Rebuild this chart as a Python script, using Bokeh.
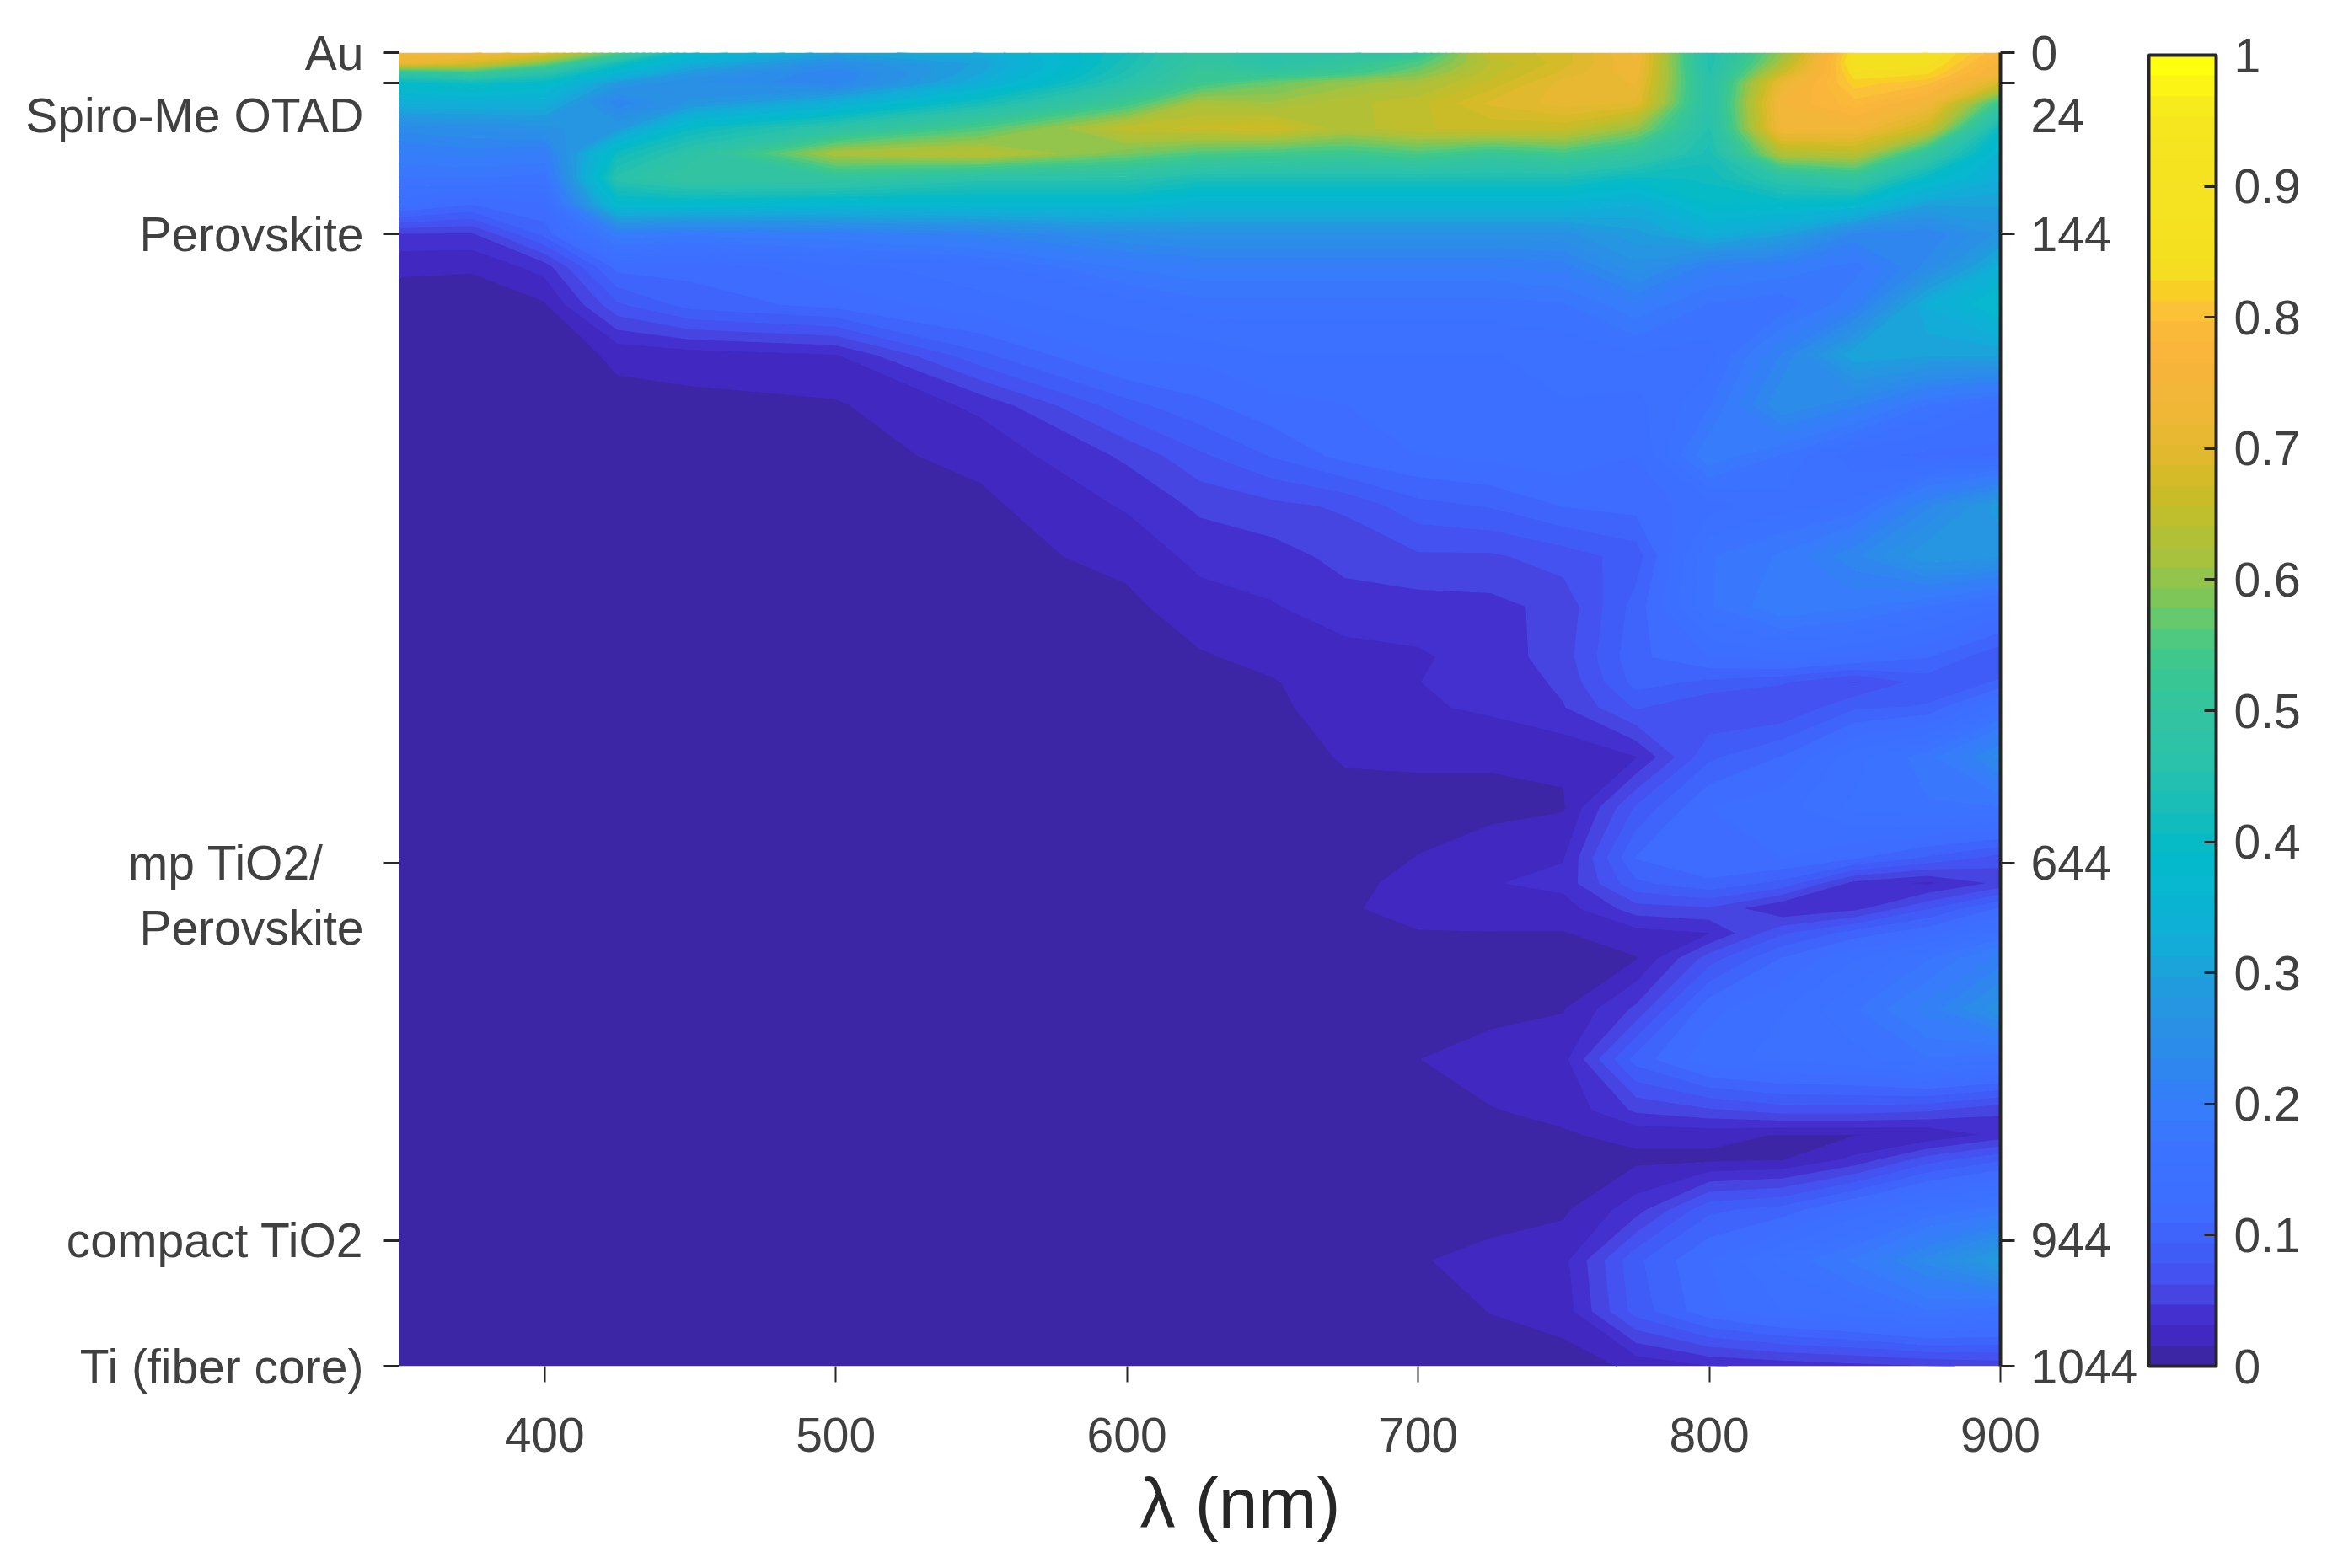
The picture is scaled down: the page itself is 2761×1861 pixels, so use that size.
import numpy as np
from bokeh.embed import file_html
from bokeh.models import ColorBar, FixedTicker, LinearAxis, LinearColorMapper, Range1d, Title
from bokeh.plotting import figure
from bokeh.resources import INLINE

# wavelength (nm) and depth (nm) of the values
wavelength = [350, 375, 400, 425, 450, 500, 550, 600, 625, 650, 675, 700, 725, 750, 775, 800, 825, 850, 875, 900]
depth = [0, 8, 16, 24, 40, 60, 80, 100, 120, 144, 170, 200, 240, 280, 320, 360, 400, 440, 480, 500,
         520, 560, 600, 640, 660, 680, 700, 720, 760, 800, 840, 860, 880, 920, 960, 1000, 1044]

col_350 = [.74, .72, .48, .39, .33, .24, .20, .17, .13, .045, .018, .009] + [.008] * 25
col_375 = [.74, .68, .52, .41, .33, .25, .21, .17, .11, .044, .017, .009] + [.008] * 25
col_400 = [.70, .58, .46, .39, .33, .26, .20, .165, .125, .098, .038, .0135] + [.008] * 25
col_425 = [.55, .42, .36, .28, .22, .28, .41, .46, .38, .20, .115, .075, .018, .012] + [.008] * 23
col_450 = [.38, .33, .28, .25, .27, .40, .47, .50, .38, .19, .115, .10, .023, .011] + [.008] * 23
col_500 = [.30, .25, .22, .22, .33, .47, .62, .50, .37, .20, .135, .115, .03, .0135, .01] + [.008] * 22
col_550 = [.33, .30, .31, .33, .42, .55, .64, .46, .37, .22, .15, .135, .09, .035, .02, .012, .01] + [.008] * 20
col_600 = [.42, .43, .44, .46, .53, .65, .58, .46, .37, .25, .19, .15, .13, .088, .05, .033, .02, .012] + [.008] * 19
col_625 = [.50, .50, .52, .53, .62, .66, .55, .43, .35, .26, .20, .165, .13, .105, .075, .05, .036, .024, .014, .01] + [.008] * 17
col_650 = [.47, .46, .50, .57, .61, .67, .54, .43, .35, .26, .20, .165, .14, .12, .095, .058, .04, .03, .02, .0145, .012] + [.008] * 16
col_675 = [.48, .50, .53, .60, .635, .63, .53, .43, .35, .26, .20, .165, .14, .125, .115, .065, .052, .04, .025, .024,
           .024, .017, .01, .008, .008, .012, .009, .008, .008, .008, .008, .008, .008, .008, .008, .008, .008]
col_700 = [.50, .55, .58, .62, .65, .655, .55, .43, .35, .26, .20, .165, .14, .135, .125, .088, .06, .04, .029, .031,
           .029, .018, .01, .016, .024, .026, .0135, .012, .009, .0153, .014, .01, .009, .009, .0145, .009, .008]
col_725 = [.66, .64, .65, .66, .69, .66, .52, .43, .35, .26, .20, .165, .14, .14, .13, .095, .06, .042, .038, .036,
           .034, .018, .01, .026, .03, .026, .0145, .013, .011, .022, .015, .011, .01, .01, .02, .016, .008]
col_750 = [.68, .68, .69, .71, .71, .66, .54, .43, .35, .26, .21, .17, .145, .14, .135, .11, .07, .052, .055, .05,
           .046, .018, .014, .03, .036, .024, .0145, .012, .0145, .026, .0195, .014, .011, .013, .026, .022, .009]
col_775 = [.74, .735, .73, .72, .70, .60, .50, .40, .33, .29, .26, .20, .155, .135, .125, .115, .085, .10, .105, .10,
           .08, .03, .08, .11, .09, .055, .024, .0145, .05, .10, .05, .02, .012, .04, .09, .085, .018]
col_800 = [.44, .44, .45, .46, .46, .45, .43, .41, .39, .33, .21, .17, .15, .17, .20, .135, .17, .17, .125, .09,
           .063, .09, .125, .125, .105, .06, .03, .07, .12, .135, .06, .02, .012, .09, .125, .12, .03]
col_825 = [.60, .62, .66, .72, .75, .74, .63, .47, .39, .30, .20, .16, .22, .25, .17, .15, .19, .20, .135, .08,
           .062, .11, .135, .125, .088, .03, .075, .11, .14, .145, .07, .0145, .0145, .10, .16, .14, .035]
col_850 = [.85, .86, .84, .82, .79, .74, .64, .50, .38, .23, .18, .20, .31, .22, .13, .16, .23, .19, .125, .06,
           .09, .15, .16, .11, .04, .04, .10, .14, .17, .15, .07, .0145, .035, .13, .19, .15, .04]
col_875 = [.86, .85, .83, .80, .74, .66, .50, .39, .30, .22, .24, .33, .30, .17, .12, .23, .28, .17, .11, .085,
           .095, .18, .17, .09, .027, .075, .12, .17, .21, .17, .065, .0155, .07, .16, .24, .17, .045]
col_900 = [.78, .76, .74, .68, .52, .40, .35, .33, .30, .27, .33, .38, .30, .14, .12, .29, .27, .14, .08, .095,
           .15, .24, .17, .07, .05, .11, .16, .21, .26, .16, .05, .036, .09, .18, .29, .16, .05]

columns = [col_350, col_375, col_400, col_425, col_450, col_500, col_550, col_600, col_625, col_650,
           col_675, col_700, col_725, col_750, col_775, col_800, col_825, col_850, col_875, col_900]

x_ticks = [400, 500, 600, 700, 800, 900]
depth_ticks = [0, 24, 144, 644, 944, 1044]
# the blank lines push a label below its tick, the no-break spaces pull "mp TiO2/" left
layer_names = {0: "Au", 24: "\nSpiro-Me OTAD", 144: "Perovskite", 644: "\nmp TiO2/\u00a0\u00a0\u00a0\nPerovskite",
               944: "compact TiO2", 1044: "Ti (fiber core)"}
depth_names = {0: "0", 24: "\n24", 144: "144", 644: "644", 944: "944", 1044: "1044"}
bar_ticks = [0, .1, .2, .3, .4, .5, .6, .7, .8, .9, 1]

# 64 steps of the colour bar, from the bottom up
palette = ["#3C26A5", "#4128C0", "#4330CF", "#4645E2", "#4352F0", "#405CF8", "#3F64FC", "#3D6CFF",
           "#3C6EFF", "#3C70FF", "#3B72FF", "#3977FD", "#367CFB", "#3380F6", "#2F86EF", "#2C8CEA",
           "#2A90E6", "#2695E2", "#209CDE", "#1AA4DA", "#13ABD8", "#0FB0D6", "#0BB3D3", "#08B7D0",
           "#05B9CC", "#06BAC6", "#10BCBE", "#1ABEB6", "#22C0B0", "#2AC2AA", "#2EC3A6", "#32C4A2",
           "#34C59C", "#38C694", "#3FC88B", "#4FC97F", "#66C96D", "#7FC659", "#93C44B", "#A8C23D",
           "#B2C035", "#BFBE2C", "#CABC28", "#D6BB28", "#E1B92E", "#E8B833", "#EEB736", "#F2B639",
           "#F6B53A", "#F9B63A", "#FBB93A", "#FBC237", "#F8D025", "#F5DE22", "#F5E020", "#F5E120",
           "#F5E220", "#F5E220", "#F5E320", "#F5E420", "#F6E61F", "#F7EB1C", "#FBF415", "#FFFF0E"]

font = "Liberation Sans"
size = "57px"
grey = "#404040"
dark = "#262626"

p = figure(frame_width=1900, frame_height=1559, min_border_left=473, min_border_top=62,
           min_border_right=372, min_border_bottom=224,
           x_range=Range1d(350, 900), y_range=Range1d(1044, 0),
           output_backend="svg", toolbar_location=None)
p.outline_line_color = None
p.grid.visible = False

z = np.array(columns).T
levels = np.linspace(0, 1, 65)
p.contour(wavelength, depth, z, levels, fill_color=palette, line_color=palette + ["#FFFF0E"], line_width=1.5)

p.xaxis.ticker = x_ticks
p.xaxis.axis_line_color = None
p.xaxis.minor_tick_line_color = None
p.xaxis.major_tick_in = 0
p.xaxis.major_tick_out = 19
p.xaxis.major_tick_line_color = dark
p.xaxis.major_tick_line_width = 2
p.xaxis.major_label_standoff = 42
p.xaxis.major_label_text_font = font
p.xaxis.major_label_text_font_size = size
p.xaxis.major_label_text_color = grey

p.yaxis.ticker = depth_ticks
p.yaxis.major_label_overrides = layer_names
p.yaxis.axis_line_color = None
p.yaxis.minor_tick_line_color = None
p.yaxis.major_tick_in = 0
p.yaxis.major_tick_out = 18
p.yaxis.major_tick_line_color = dark
p.yaxis.major_tick_line_width = 3
p.yaxis.major_label_standoff = 24
p.yaxis.major_label_text_font = font
p.yaxis.major_label_text_font_size = size
p.yaxis.major_label_text_color = grey

right_axis = LinearAxis(ticker=FixedTicker(ticks=depth_ticks), major_label_overrides=depth_names)
right_axis.axis_line_color = dark
right_axis.axis_line_width = 4
right_axis.minor_tick_line_color = None
right_axis.major_tick_in = 0
right_axis.major_tick_out = 17
right_axis.major_tick_line_color = dark
right_axis.major_tick_line_width = 3
right_axis.major_label_standoff = 19
right_axis.major_label_text_font = font
right_axis.major_label_text_font_size = size
right_axis.major_label_text_color = grey
p.add_layout(right_axis, "right")

mapper = LinearColorMapper(palette=palette, low=0, high=1)
bar = ColorBar(color_mapper=mapper, ticker=FixedTicker(ticks=bar_ticks), major_label_overrides={0: "0", 1: "1"},
               width=80, height=1556, padding=0, margin=21, location=(10, 0), label_standoff=21,
               major_tick_in=14, major_tick_out=0, major_tick_line_color=dark, major_tick_line_width=3,
               minor_tick_line_color=None, bar_line_color=dark, bar_line_width=4,
               major_label_text_font=font, major_label_text_font_size=size, major_label_text_color=grey)
p.add_layout(bar, "right")

# x label sits right of the frame centre, so a title with an offset rather than axis_label
x_title = Title(text="\u03bb (nm)", align="left", offset=879, standoff=18, text_font=font,
                text_font_size="84px", text_font_style="normal", text_color=dark)
p.add_layout(x_title, "below")

open("out.html", "w").write(file_html(p, INLINE))
